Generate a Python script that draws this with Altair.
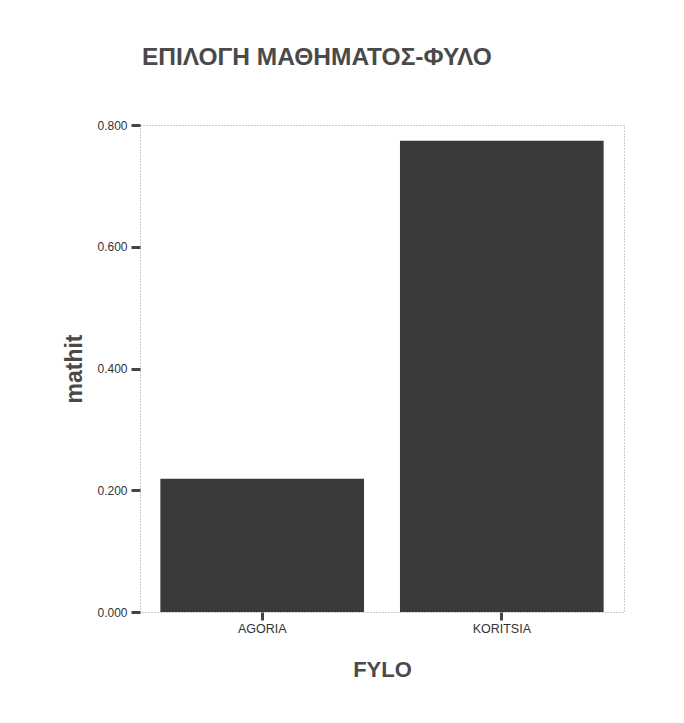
import altair as alt
import pandas as pd

categories = ["AGORIA", "KORITSIA"]
values = [0.219, 0.774]
y_ticks = [0.0, 0.2, 0.4, 0.6, 0.8]

df = pd.DataFrame({"FYLO": categories, "mathit": values})

FONT = "Liberation Sans"

chart = (
    alt.Chart(df)
    .mark_bar(color="#3a3a3a")
    .encode(
        x=alt.X(
            "FYLO:N",
            sort=categories,
            scale=alt.Scale(paddingInner=0.15, paddingOuter=0.085),
            axis=alt.Axis(
                title="FYLO",
                labelAngle=0,
                labelFontSize=12.5,
                labelColor="#333333",
                labelFont=FONT,
                labelPadding=2,
                tickSize=8,
                tickWidth=3,
                tickColor="#444444",
                domain=False,
                titleFont=FONT,
                titleFontSize=22,
                titleFontWeight="bold",
                titleColor="#4a4a4a",
                titlePadding=25,
            ),
        ),
        y=alt.Y(
            "mathit:Q",
            scale=alt.Scale(domain=[0, 0.8], nice=False),
            axis=alt.Axis(
                title="mathit",
                values=y_ticks,
                format=".3f",
                grid=False,
                labelFontSize=12,
                labelColor="#333333",
                labelFont=FONT,
                labelPadding=4,
                tickSize=9,
                tickWidth=3,
                tickColor="#444444",
                domain=False,
                titleFont=FONT,
                titleFontSize=23,
                titleFontWeight="bold",
                titleColor="#4a4a4a",
                titlePadding=10,
            ),
        ),
    )
    .properties(
        width=484,
        height=487,
        autosize=alt.AutoSizeParams(type="none"),
        padding={"left": 132, "top": 117, "right": 52, "bottom": 100},
        title=alt.TitleParams(
            "ΕΠΙΛΟΓΗ ΜΑΘΗΜΑΤΟΣ-ΦΥΛΟ",
            anchor="start",
            frame="group",
            dx=2,
            offset=49,
            font=FONT,
            fontSize=24.5,
            fontWeight="bold",
            color="#4a4a4a",
        ),
    )
    .configure_view(stroke="#999999", strokeDash=[1, 2], strokeWidth=1)
)

chart.save("out.html", embed_options={"renderer": "svg", "actions": False})
